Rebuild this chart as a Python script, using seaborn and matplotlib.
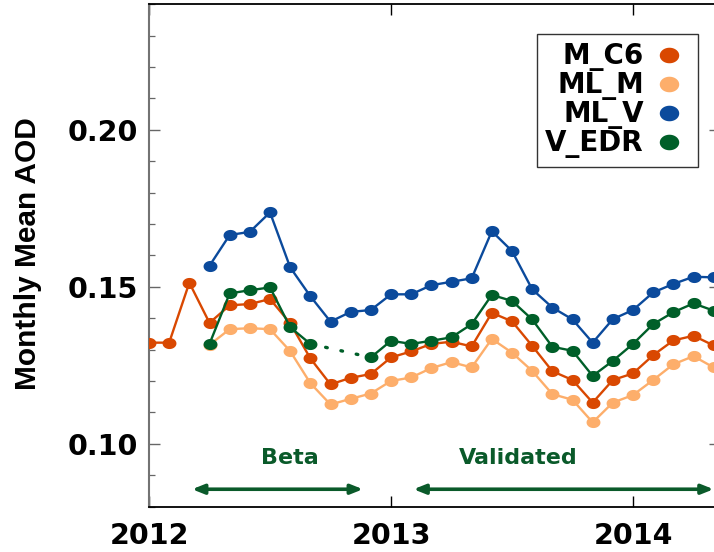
import numpy as np
import pandas as pd
import matplotlib
matplotlib.use("Agg")
import matplotlib.pyplot as plt
import seaborn as sns
from matplotlib.path import Path
from matplotlib.lines import Line2D
from matplotlib.ticker import MultipleLocator, FixedLocator

# Monthly mean AOD, Jan 2012 - May 2014
months = pd.period_range("2012-01", "2014-05", freq="M")
nan = np.nan

m_c6 = [0.1322, 0.1322, 0.1513, 0.1385, 0.1441, 0.1445, 0.1461, 0.1384,
        0.1272, 0.1189, 0.1210, 0.1222, 0.1275, 0.1294, 0.1318, 0.1325,
        0.1310, 0.1417, 0.1390, 0.1312, 0.1231, 0.1203, 0.1131, 0.1203,
        0.1224, 0.1282, 0.1329, 0.1344, 0.1313]
ml_m = [nan, nan, nan, 0.1315, 0.1365, 0.1368, 0.1365, 0.1295,
        0.1193, 0.1125, 0.1143, 0.1160, 0.1200, 0.1211, 0.1241, 0.1260,
        0.1243, 0.1334, 0.1290, 0.1232, 0.1158, 0.1140, 0.1068, 0.1131,
        0.1155, 0.1203, 0.1253, 0.1279, 0.1243]
ml_v = [nan, nan, nan, 0.1567, 0.1665, 0.1675, 0.1737, 0.1562,
        0.1470, 0.1389, 0.1420, 0.1426, 0.1476, 0.1476, 0.1505, 0.1516,
        0.1527, 0.1677, 0.1614, 0.1492, 0.1434, 0.1396, 0.1322, 0.1397,
        0.1426, 0.1482, 0.1509, 0.1532, 0.1530]
v_edr = [nan, nan, nan, 0.1318, 0.1479, 0.1489, 0.1498, 0.1371,
         0.1318, nan, nan, 0.1275, 0.1328, 0.1318, 0.1328, 0.1339,
         0.1381, 0.1474, 0.1455, 0.1396, 0.1309, 0.1296, 0.1216, 0.1264,
         0.1318, 0.1381, 0.1419, 0.1447, 0.1424]

products = ["M_C6", "ML_M", "ML_V", "V_EDR"]
colors = {"M_C6": "#d94801", "ML_M": "#fdae6b", "ML_V": "#0b4a9c", "V_EDR": "#005f29"}
draw_order = ["ML_V", "ML_M", "M_C6", "V_EDR"]

# Product maturity periods (decimal years) and their labels
stage_names = ["Beta", "Validated"]
stage_start = [2012.178, 2013.093]
stage_end = [2012.884, 2014.333]
stage_label_x = [2012.583, 2013.527]

year_ticks = [2012, 2013, 2014]

time = months.year + (months.month - 1) / 12.0
df = pd.DataFrame({"time": time, "M_C6": m_c6, "ML_M": ml_m,
                   "ML_V": ml_v, "V_EDR": v_edr})

sns.set_style("ticks")
plt.rcParams["font.family"] = ["DejaVu Sans"]
plt.rcParams["font.weight"] = "bold"
plt.rcParams["text.color"] = "black"
plt.rcParams["axes.labelcolor"] = "black"
plt.rcParams["xtick.labelcolor"] = "black"
plt.rcParams["ytick.labelcolor"] = "black"

# slightly wide ellipse used as the point marker
theta = np.linspace(0, 2 * np.pi, 73)
ellipse = Path(np.column_stack([1.25 * np.cos(theta), np.sin(theta)]), closed=True)

fig = plt.figure(figsize=(7.14, 5.52), dpi=100)
ax = fig.add_axes([149 / 714, 45.5 / 552, 571 / 714, 502.2 / 552])

for z, name in enumerate(draw_order):
    s = df[["time", name]].copy()
    valid = s[name].notna()
    run_id = (valid != valid.shift()).cumsum()
    for _, seg in s[valid].groupby(run_id[valid]):
        sns.lineplot(data=seg, x="time", y=name, ax=ax, color=colors[name],
                     marker=ellipse, markersize=10, markeredgewidth=0,
                     linewidth=1.7, estimator=None, sort=False, legend=False,
                     zorder=3 + z)
    # dotted bridge across a gap in the record
    idx = np.flatnonzero(valid.to_numpy())
    for a, b in zip(idx[:-1], idx[1:]):
        if b - a > 1:
            ax.plot([s["time"].iloc[a], s["time"].iloc[b]],
                    [s[name].iloc[a], s[name].iloc[b]],
                    color=colors[name], linewidth=2.4,
                    linestyle=(0, (0.5, 4.2)), dash_capstyle="round",
                    zorder=3 + z)

ax.set_xlim(2012.0, 2012.0 + 571 / 242.0)
ax.set_ylim(0.08, 0.24)

ax.xaxis.set_major_locator(FixedLocator(year_ticks))
ax.set_xticklabels([str(y) for y in year_ticks])
ax.yaxis.set_major_locator(FixedLocator([0.10, 0.15, 0.20]))
ax.yaxis.set_minor_locator(MultipleLocator(0.01))
ax.set_yticklabels(["0.10", "0.15", "0.20"])

ax.tick_params(axis="both", which="both", direction="in", top=True, right=True)
ax.tick_params(axis="both", which="major", length=8, width=1.0)
ax.tick_params(axis="y", which="minor", length=4.3, width=0.9)
ax.tick_params(axis="x", which="major", pad=11, labelsize=20.5,
               labelcolor="black")
ax.tick_params(axis="y", which="major", pad=8, labelsize=20.5,
               labelcolor="black")
ax.tick_params(axis="y", which="both", color="0.4")
ax.tick_params(axis="x", which="both", color="black")

for lab in ax.get_xticklabels() + ax.get_yticklabels():
    lab.set_fontweight("bold")

ax.spines["left"].set_color("0.45")
ax.spines["left"].set_linewidth(1.5)
for sp in ["top", "bottom", "right"]:
    ax.spines[sp].set_color("black")
    ax.spines[sp].set_linewidth(1.3)

ax.set_xlabel("")
ax.set_ylabel("Monthly Mean AOD", fontsize=21.5, fontweight="bold",
              color="black", family=["Liberation Sans", "DejaVu Sans"])
ax.yaxis.set_label_coords((42 - 149) / 571, 0.503)

# maturity-stage arrows
arrow_color = "#0a5a2a"
for name, x0, x1, xl in zip(stage_names, stage_start, stage_end, stage_label_x):
    ax.annotate("", xy=(x1, 0.0855), xytext=(x0, 0.0855),
                arrowprops=dict(arrowstyle="<|-|>,head_length=0.7,head_width=0.28",
                                color=arrow_color, linewidth=2.6,
                                shrinkA=0, shrinkB=0))
    ax.text(xl, 0.0954, name, color=arrow_color, fontsize=16,
            fontweight="bold", ha="center", va="center")

handles = [Line2D([], [], linestyle="none", marker=ellipse, markersize=14,
                  markeredgewidth=0, color=colors[p]) for p in products]
leg = ax.legend(handles, products, loc="upper right",
                bbox_to_anchor=(0.9615, 0.941), borderaxespad=0,
                markerfirst=False, frameon=True, fancybox=False,
                prop={"size": 20, "weight": "bold"},
                labelspacing=0.0, handlelength=1.5, handletextpad=0.15,
                borderpad=0.3, labelcolor="black")
leg.get_frame().set_edgecolor("black")
leg.get_frame().set_linewidth(1.0)
for t in leg.get_texts():
    t.set_ha("right")
leg._legend_box.align = "right"
leg.set_zorder(10)

fig.savefig("out.png", dpi=100)
